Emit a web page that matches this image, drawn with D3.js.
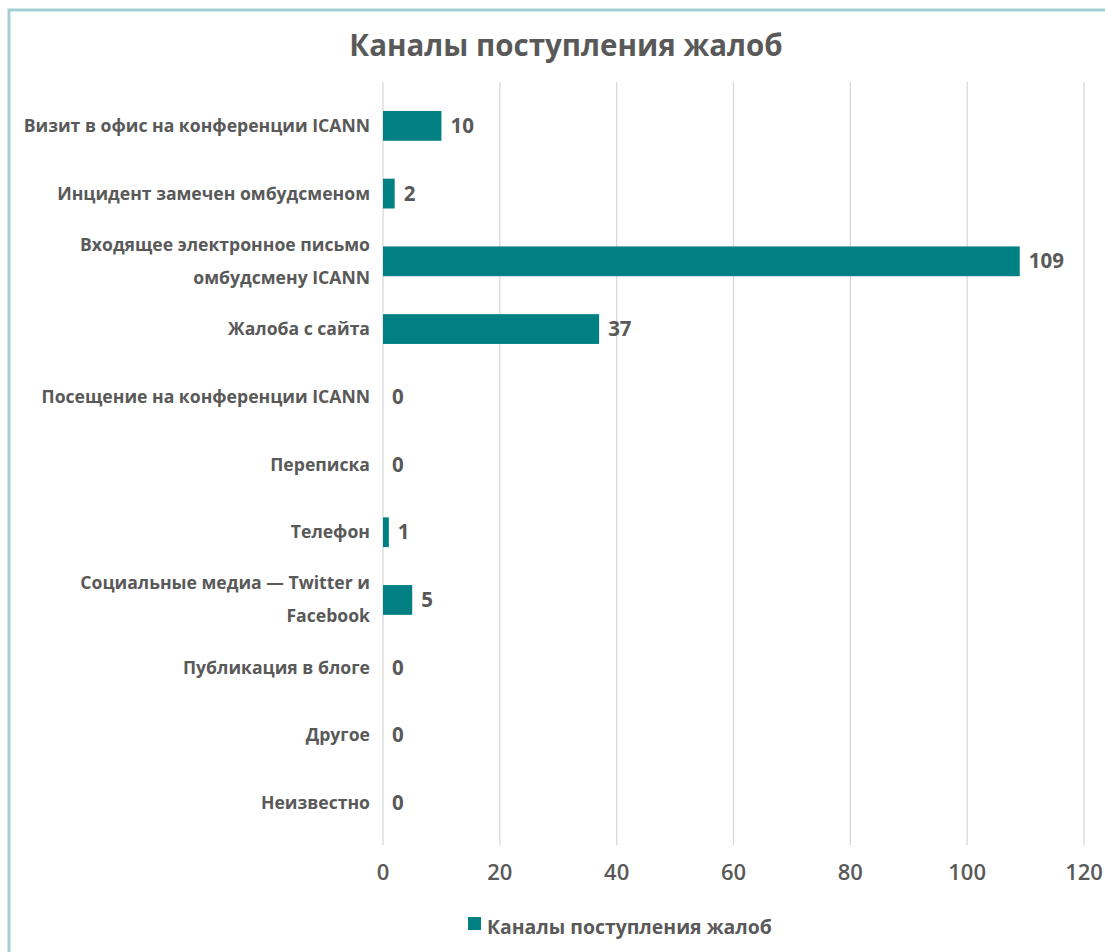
<!DOCTYPE html>
<html>
<head>
  <meta charset="utf-8">
  <title>Каналы поступления жалоб</title>
  <script src="https://cdn.jsdelivr.net/npm/d3@7"></script>
  <style>
    body { margin: 0; background: #fff; }
    svg text { font-family: "Open Sans", sans-serif; fill: #595959; }
  </style>
</head>
<body>
<svg id="chart" width="1105" height="952"></svg>
<script>
  // data
  var categories = [
    ["Визит в офис на конференции ICANN"],
    ["Инцидент замечен омбудсменом"],
    ["Входящее электронное письмо", "омбудсмену ICANN"],
    ["Жалоба с сайта"],
    ["Посещение на конференции ICANN"],
    ["Переписка"],
    ["Телефон"],
    ["Социальные медиа — Twitter и", "Facebook"],
    ["Публикация в блоге"],
    ["Другое"],
    ["Неизвестно"]
  ];
  var values = [10, 2, 109, 37, 0, 0, 1, 5, 0, 0, 0];
  var ticks = [0, 20, 40, 60, 80, 100, 120];
  var title = "Каналы поступления жалоб";

  var svg = d3.select("#chart");

  // outer border
  svg.append("rect")
    .attr("x", 9).attr("y", 10)
    .attr("width", 1110).attr("height", 960)
    .attr("fill", "none")
    .attr("stroke", "#a3d0d4")
    .attr("stroke-width", 3);

  var x = d3.scaleLinear().domain([0, 120]).range([383, 1084]);
  var y = d3.scaleBand().domain(d3.range(categories.length)).range([92, 837]).paddingInner(0.56).paddingOuter(0.28);

  // gridlines
  svg.append("g").selectAll("line")
    .data(ticks)
    .enter().append("line")
    .attr("x1", function(d){ return x(d); })
    .attr("x2", function(d){ return x(d); })
    .attr("y1", 82).attr("y2", 845)
    .attr("stroke", "#d9d9d9")
    .attr("stroke-width", 1.3);

  // tick labels
  svg.append("g").selectAll("text")
    .data(ticks)
    .enter().append("text")
    .attr("x", function(d){ return x(d); })
    .attr("y", 880)
    .attr("text-anchor", "middle")
    .style("font-size", "22px")
    .style("font-weight", 600)
    .text(function(d){ return d; });

  // bars
  svg.append("g").selectAll("rect")
    .data(values)
    .enter().append("rect")
    .attr("x", x(0))
    .attr("y", function(d, i){ return y(i); })
    .attr("width", function(d){ return x(d) - x(0); })
    .attr("height", y.bandwidth())
    .attr("fill", "#008083");

  // value labels
  svg.append("g").selectAll("text")
    .data(values)
    .enter().append("text")
    .attr("x", function(d){ return x(d) + 9; })
    .attr("y", function(d, i){ return y(i) + y.bandwidth() / 2 + 7; })
    .style("font-size", "20.5px")
    .style("font-weight", 700)
    .text(function(d){ return d; });

  // category labels
  var cat = svg.append("g").selectAll("text")
    .data(categories)
    .enter().append("text")
    .attr("text-anchor", "end")
    .style("font-size", "17.6px")
    .style("font-weight", 700)
    .attr("y", function(d, i){
      var c = y(i) + y.bandwidth() / 2 + 6;
      return c - (d.length - 1) * 16.5;
    });
  cat.selectAll("tspan")
    .data(function(d){ return d; })
    .enter().append("tspan")
    .attr("x", 370)
    .attr("dy", function(d, j){ return j === 0 ? 0 : 33; })
    .text(function(d){ return d; });

  // title
  svg.append("text")
    .attr("x", 566).attr("y", 56)
    .attr("text-anchor", "middle")
    .style("font-size", "29.5px")
    .style("font-weight", 700)
    .text(title);

  // legend
  svg.append("rect")
    .attr("x", 468).attr("y", 917)
    .attr("width", 13).attr("height", 13)
    .attr("fill", "#008083");
  svg.append("text")
    .attr("x", 487).attr("y", 934)
    .style("font-size", "19.4px")
    .style("font-weight", 700)
    .text(title);
</script>
</body>
</html>
